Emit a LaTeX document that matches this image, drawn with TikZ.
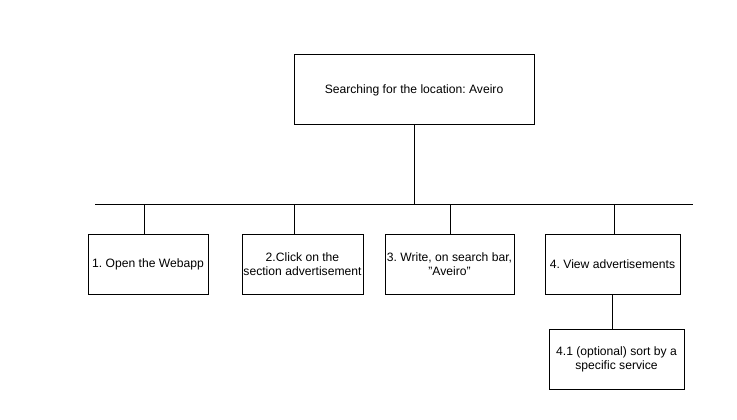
\documentclass[tikz,border=0pt]{standalone}
\usepackage{fontspec}
\setmainfont{Liberation Sans}
\frenchspacing
\begin{document}
\begin{tikzpicture}[x=0.75pt,y=-0.75pt,line width=0.75pt,
  box/.style={draw=black,fill=white,inner sep=0pt,align=center,font=\fontsize{9.1}{10.5}\selectfont},
  link/.style={draw=black,line width=0.75pt}]
\useasboundingbox (0,0) rectangle (737,420);
\node[box,minimum width=240*0.75pt,minimum height=70*0.75pt] (top) at (414,90) {Searching for the location: Aveiro};
\node[box,minimum width=120*0.75pt,minimum height=60*0.75pt] (b1) at (148,264) {1. Open the Webapp};
\node[box,minimum width=121*0.75pt,minimum height=60*0.75pt] (b2) at (302.5,264) {2.Click on the\\section advertisement};
\node[box,minimum width=129*0.75pt,minimum height=60*0.75pt] (b3) at (449.5,264) {3. Write, on search bar,\\"Aveiro"};
\node[box,minimum width=135*0.75pt,minimum height=60*0.75pt] (b4) at (612.5,264) {4. View advertisements};
\node[box,minimum width=135*0.75pt,minimum height=60*0.75pt] (b41) at (616.5,359) {4.1 (optional) sort by a\\specific service};
\coordinate (busL) at (95,204);
\coordinate (busR) at (693,204);
\coordinate (s1) at (144,204);
\coordinate (s2) at (294,204);
\coordinate (s3) at (450,204);
\coordinate (s4) at (614,204);
\draw[link] (busL) -- (busR);
\draw[link] (top.south) -- (top.south |- busL);
\draw[link] (s1) -- (b1.north -| s1);
\draw[link] (s2) -- (b2.north -| s2);
\draw[link] (s3) -- (b3.north -| s3);
\draw[link] (s4) -- (b4.north -| s4);
\draw[link] (b4.south) -- (b41.north -| b4.south);
\end{tikzpicture}
\end{document}
